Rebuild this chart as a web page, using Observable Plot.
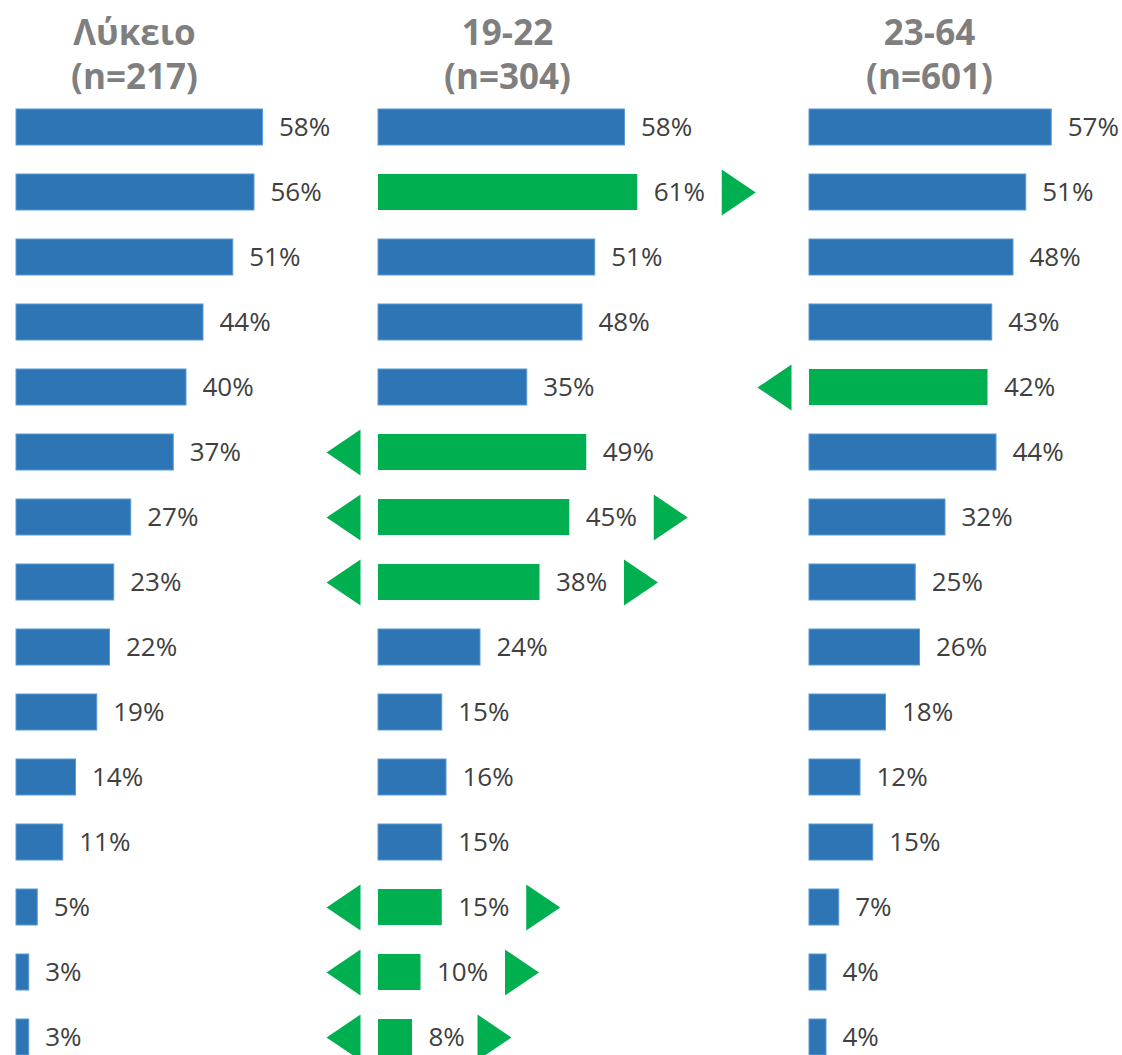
<!DOCTYPE html>
<html>
<head>
<meta charset="utf-8">
<script src="https://cdn.jsdelivr.net/npm/d3@7"></script>
<script src="https://cdn.jsdelivr.net/npm/@observablehq/plot@0.6"></script>
<style>
  body { margin: 0; background: #fff; }
  #chart { position: relative; width: 1122px; height: 1055px; overflow: hidden; background: #fff; }
  #chart svg { position: absolute; left: 0; top: 0; }
</style>
</head>
<body>
<div id="chart"></div>
<script>
// ---- data ----
const rows = d3.range(1, 16);
const groups = ["Λύκειο", "19-22", "23-64"];
const sampleSizes = ["(n=217)", "(n=304)", "(n=601)"];

const lykeio  = [58, 56, 51, 44, 40, 37, 27, 23, 22, 19, 14, 11, 5, 3, 3];
const age1922 = [58, 61, 51, 48, 35, 49, 45, 38, 24, 15, 16, 15, 15, 10, 8];
const age2364 = [57, 51, 48, 43, 42, 44, 32, 25, 26, 18, 12, 15, 7, 4, 4];

// highlighted rows (1-based)
const highlightLykeio = [];
const highlight1922 = [2, 6, 7, 8, 13, 14, 15];
const highlight2364 = [5];

// arrow markers (1-based rows)
const leftArrowLykeio = [];
const rightArrowLykeio = [];
const leftArrow1922 = [6, 7, 8, 13, 14, 15];
const rightArrow1922 = [2, 7, 8, 13, 14, 15];
const leftArrow2364 = [5];
const rightArrow2364 = [];

// ---- styles / layout ----
const BLUE = "#2E75B6";
const BLUE_EDGE = "#5B9BD5";
const GREEN = "#00B050";
const LABEL = "#404040";
const TITLE = "#7F7F7F";
const FONT = "'Open Sans', 'Noto Sans', sans-serif";
const W = 1122, H = 1055;
const panels = [
  {values: lykeio,  hl: highlightLykeio, left: leftArrowLykeio, right: rightArrowLykeio, start: 16,  center: 134},
  {values: age1922, hl: highlight1922,   left: leftArrow1922,   right: rightArrow1922,   start: 378, center: 507},
  {values: age2364, hl: highlight2364,   left: leftArrow2364,   right: rightArrow2364,   start: 809, center: 929}
];
const PX_PER_PCT = 4.25;

const triRight = {draw(ctx) { ctx.moveTo(0, -23); ctx.lineTo(34, 0); ctx.lineTo(0, 23); ctx.closePath(); }};
const triLeft  = {draw(ctx) { ctx.moveTo(0, -23); ctx.lineTo(-34, 0); ctx.lineTo(0, 23); ctx.closePath(); }};

const chart = document.getElementById("chart");

panels.forEach((p, gi) => {
  const data = rows.map((r, i) => ({
    row: r,
    value: p.values[i],
    label: p.values[i] + "%",
    hl: p.hl.includes(r),
    left: p.left.includes(r),
    right: p.right.includes(r)
  }));
  const rightData = data.filter(d => d.right);
  const marks = [
    Plot.barX(data.filter(d => !d.hl), {x: "value", y: "row", fill: BLUE, stroke: BLUE_EDGE, strokeWidth: 1}),
    Plot.barX(data.filter(d => d.hl), {x: "value", y: "row", fill: GREEN}),
    Plot.text(data, {x: "value", y: "row", text: "label", dx: 16, textAnchor: "start", fontSize: 26, fill: LABEL}),
    Plot.dot(data.filter(d => d.left), {x: () => 0, y: "row", symbol: triLeft, fill: GREEN, stroke: "none", dx: -18}),
    Plot.dot(rightData.filter(d => d.label.length === 3), {x: "value", y: "row", symbol: triRight, fill: GREEN, stroke: "none", dx: 27 + 19 * 3}),
    Plot.dot(rightData.filter(d => d.label.length === 2), {x: "value", y: "row", symbol: triRight, fill: GREEN, stroke: "none", dx: 27 + 19 * 2}),
    Plot.text([groups[gi] + "\n" + sampleSizes[gi]], {
      frameAnchor: "top-left", text: d => d, dx: p.center, dy: 52.5,
      textAnchor: "middle", lineAnchor: "middle", lineHeight: 1.25,
      fontSize: 35, fontWeight: "bold", fill: TITLE
    })
  ];
  const svg = Plot.plot({
    width: W,
    height: H,
    marginTop: 0, marginBottom: 0, marginLeft: 0, marginRight: 0,
    style: {fontFamily: FONT, background: "transparent", overflow: "visible"},
    x: {domain: [0, 100], range: [p.start, p.start + 100 * PX_PER_PCT], axis: null},
    y: {domain: rows, range: [80, 1084], padding: 0.446, round: false, axis: null},
    marks
  });
  chart.appendChild(svg);
});
</script>
</body>
</html>
